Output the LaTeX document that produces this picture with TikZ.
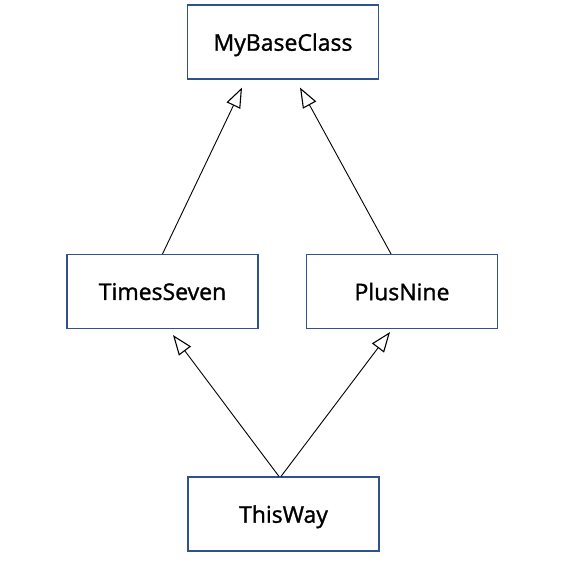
\documentclass[tikz,border=0pt]{standalone}
\usepackage{fontspec}
\setmainfont{Open Sans}
\newfontfamily\boxfont[FakeBold=1.3]{Open Sans}
\usetikzlibrary{arrows.meta,calc}
\definecolor{boxblue}{HTML}{2F528F}
\begin{document}
\begin{tikzpicture}[x=1pt,y=-1pt,
  cls/.style={draw=boxblue,line width=1.1pt,fill=white,minimum width=191pt,minimum height=74pt,inner sep=0pt,text depth=0pt,font=\boxfont\fontsize{23}{27}\selectfont},
  inh/.style={line width=0.9pt,-{Triangle[open,length=20pt,width=15pt,line width=1.1pt]}}]
\useasboundingbox (0,0) rectangle (563,575);
\node[cls] (base) at (283,42) {MyBaseClass};
\node[cls] (ts) at (162.5,291.5) {TimesSeven};
\node[cls] (pn) at (402,291.5) {PlusNine};
\node[cls] (tw) at (283.5,514) {ThisWay};
\draw[inh] (ts.north) -- ($(base.south)+(-41,8)$);
\draw[inh] ($(pn.north)+(-11,0)$) -- ($(base.south)+(17,8)$);
\draw[inh] ($(tw.north)+(-4.5,0)$) -- ($(ts.south)+(10.5,6)$);
\draw[inh] ($(tw.north)+(-2.5,0)$) -- ($(pn.south)+(-12,3)$);
\end{tikzpicture}
\end{document}
